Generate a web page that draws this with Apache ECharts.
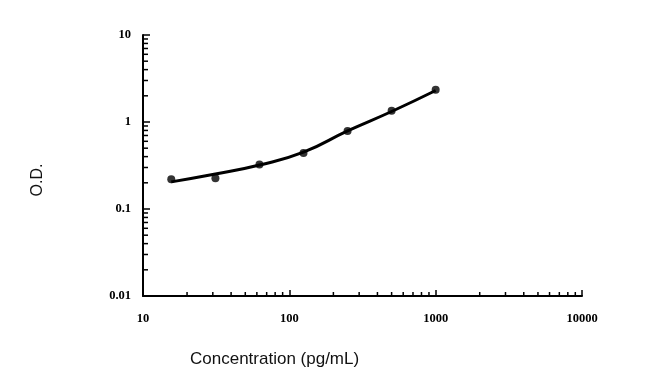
<!DOCTYPE html>
<html><head><meta charset="utf-8">
<script src="https://cdn.jsdelivr.net/npm/echarts@6/dist/echarts.min.js"></script>
<style>html,body{margin:0;padding:0;background:#fff}#c{width:650px;height:387px}</style>
</head><body><div id="c"></div>
<script>
const concentrations = [15.6, 31.25, 62.5, 125, 250, 500, 1000];
const odValues = [0.22, 0.225, 0.325, 0.44, 0.79, 1.35, 2.35];
const fitValues = [0.205, 0.252, 0.32, 0.45, 0.79, 1.32, 2.3];
const xTickLabels = {10: '10', 100: '100', 1000: '1000', 10000: '10000'};
const yTickLabels = {0.01: '0.01', 0.1: '0.1', 1: '1', 10: '10'};
const xMinorTicks = [20,30,40,50,60,70,80,90,200,300,400,500,600,700,800,900,2000,3000,4000,5000,6000,7000,8000,9000];
const yMinorTicks = [0.02,0.03,0.04,0.05,0.06,0.07,0.08,0.09,0.2,0.3,0.4,0.5,0.6,0.7,0.8,0.9,2,3,4,5,6,7,8,9];

const chart = echarts.init(document.getElementById('c'));
const labelFont = {color:'#000', fontFamily:'Liberation Serif', fontWeight:'bold', fontSize:12.5};
chart.setOption({
  animation:false,
  grid:{left:143, right:68, top:35, bottom:91},
  xAxis:{type:'log', logBase:10, min:10, max:10000,
    axisLine:{lineStyle:{color:'#000', width:2}},
    axisTick:{inside:true, length:6, lineStyle:{color:'#000', width:1.5}},
    axisLabel:Object.assign({margin:16, formatter:v=>xTickLabels[v]||''}, labelFont),
    splitLine:{show:false}},
  yAxis:{type:'log', logBase:10, min:0.01, max:10,
    axisLine:{lineStyle:{color:'#000', width:2}},
    axisTick:{inside:true, length:7, lineStyle:{color:'#000', width:1.5}},
    axisLabel:Object.assign({margin:12, formatter:v=>yTickLabels[v]||''}, labelFont),
    splitLine:{show:false}},
  graphic:[
    {type:'text', left:190, top:351, style:{text:'Concentration (pg/mL)', font:'17px "Liberation Sans"', fill:'#111'}},
    {type:'text', x:38, y:180, rotation:Math.PI/2, style:{text:'O.D.', font:'16px "Liberation Sans"', fill:'#111', align:'center', verticalAlign:'middle'}}
  ],
  series:[
    {type:'custom', silent:true, data:xMinorTicks.map(v=>[v,0.01]),
      renderItem:(params, api)=>{const p=api.coord([api.value(0), api.value(1)]);
        return {type:'line', shape:{x1:p[0], y1:p[1], x2:p[0], y2:p[1]-4}, style:{stroke:'#000', lineWidth:1.5}};}},
    {type:'custom', silent:true, data:yMinorTicks.map(v=>[10,v]),
      renderItem:(params, api)=>{const p=api.coord([api.value(0), api.value(1)]);
        return {type:'line', shape:{x1:p[0], y1:p[1], x2:p[0]+5, y2:p[1]}, style:{stroke:'#000', lineWidth:1.5}};}},
    {type:'line', data:concentrations.map((c,i)=>[c, fitValues[i]]), smooth:0.5, showSymbol:false,
      lineStyle:{color:'#000', width:3}},
    {type:'scatter', data:concentrations.map((c,i)=>[c, odValues[i]]), symbol:'circle', symbolSize:8,
      itemStyle:{color:'#000'}}
  ]
});
</script></body></html>
